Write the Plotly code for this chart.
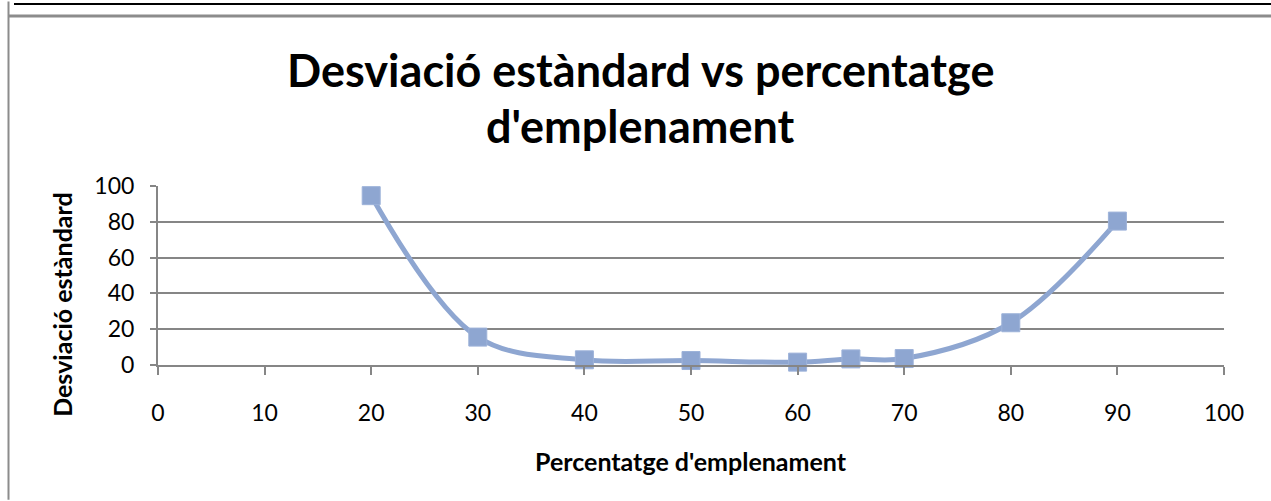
import plotly.graph_objects as go

# Fill percentage vs standard deviation
percentatge = [20, 30, 40, 50, 60, 65, 70, 80, 90]
desviacio = [94.6, 15.6, 2.9, 2.5, 1.6, 3.4, 3.6, 23.6, 80.4]

x_ticks = [0, 10, 20, 30, 40, 50, 60, 70, 80, 90, 100]
y_ticks = [0, 20, 40, 60, 80, 100]

title_lines = ["Desviació estàndard vs percentatge", "d'emplenament"]
x_title = "Percentatge d'emplenament"
y_title = "Desviació estàndard"

W, H = 1271, 501
L, R, T, B = 158, 1224, 185.5, 365.5
PW, PH = R - L, B - T


def px(xp):
    return (xp - L) / PW


def py(yp):
    return (B - yp) / PH


series_color = "#8EA6D1"
grid_color = "#868686"
font_family = "Lato, 'Open Sans', sans-serif"

fig = go.Figure()
fig.add_trace(go.Scatter(
    x=percentatge, y=desviacio,
    mode="lines+markers",
    line=dict(color=series_color, width=5, shape="spline", smoothing=1.0),
    marker=dict(symbol="square", size=18, color=series_color,
                line=dict(color="#9DB2D9", width=1)),
    cliponaxis=False,
    showlegend=False,
))

fig.update_layout(
    width=W, height=H,
    margin=dict(l=L, r=W - R, t=T, b=H - B),
    paper_bgcolor="white", plot_bgcolor="white",
    font=dict(family=font_family, color="black"),
    xaxis=dict(
        range=[0, 100], tickvals=x_ticks, ticktext=[str(v) for v in x_ticks],
        showgrid=False, zeroline=False,
        showline=True, linecolor=grid_color, linewidth=2,
        ticks="outside", ticklen=8, tickwidth=2, tickcolor=grid_color,
        ticklabelstandoff=18,
        tickfont=dict(size=23, family=font_family, color="black"),
        fixedrange=True,
    ),
    yaxis=dict(
        range=[0, 100], tickvals=y_ticks, ticktext=[str(v) for v in y_ticks],
        showgrid=True, gridcolor=grid_color, gridwidth=2, zeroline=False,
        showline=True, linecolor=grid_color, linewidth=2,
        ticks="outside", ticklen=6, tickwidth=2, tickcolor=grid_color,
        ticklabelstandoff=11,
        tickfont=dict(size=23, family=font_family, color="black"),
        fixedrange=True,
    ),
)

annotations = [
    dict(text=f"<b>{title_lines[0]}</b>", x=px(640), y=py(69), xref="paper", yref="paper",
         showarrow=False, xanchor="center", yanchor="middle",
         font=dict(size=45, family=font_family, color="black")),
    dict(text=f"<b>{title_lines[1]}</b>", x=px(640), y=py(125), xref="paper", yref="paper",
         showarrow=False, xanchor="center", yanchor="middle",
         font=dict(size=45, family=font_family, color="black")),
    dict(text=f"<b>{x_title}</b>", x=px(691), y=py(462), xref="paper", yref="paper",
         showarrow=False, xanchor="center", yanchor="middle",
         font=dict(size=25, family=font_family, color="black")),
    dict(text=f"<b>{y_title}</b>", x=px(62), y=py(305), xref="paper", yref="paper",
         showarrow=False, xanchor="center", yanchor="middle", textangle=-90,
         font=dict(size=25, family=font_family, color="black")),
]
fig.update_layout(annotations=annotations)

# Window frame lines around the chart
shapes = [
    dict(type="line", xref="paper", yref="paper", x0=px(14), x1=px(W), y0=py(2.5), y1=py(2.5),
         line=dict(color="black", width=2)),
    dict(type="line", xref="paper", yref="paper", x0=px(8), x1=px(W), y0=py(14.5), y1=py(14.5),
         line=dict(color="#8C8C8C", width=3)),
    dict(type="line", xref="paper", yref="paper", x0=px(8.5), x1=px(8.5), y0=py(0), y1=py(H),
         line=dict(color="#8C8C8C", width=2)),
]
fig.update_layout(shapes=shapes)

fig.write_html("out.html")
